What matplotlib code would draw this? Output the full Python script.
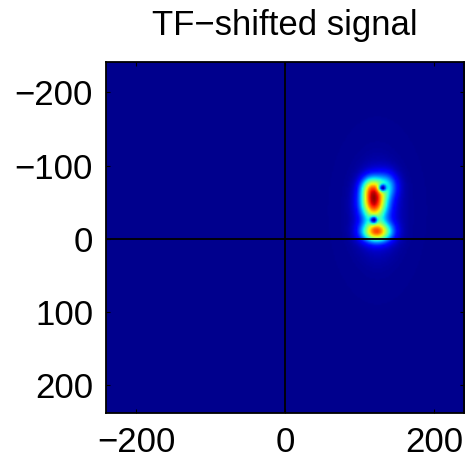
import numpy as np
import matplotlib.pyplot as plt

plt.rcParams['font.family'] = ['Liberation Sans', 'DejaVu Sans']

# time-frequency grid (samples)
t = np.arange(-240, 240, 2)
f = np.arange(-240, 240, 2)

# gaussian atoms of the shifted signal: centre, spread, weight
atom_t = [117, 113, 121, 122, 134]
atom_f = [-50, -70, -9, -38, -72]
atom_st = [11, 9, 13, 18, 10]
atom_sf = [16, 10, 9, 35, 12]
atom_amp = [1.0, 0.4, 0.9, 0.2, 0.3]

# interference zeros
zero_t = [129, 117]
zero_f = [-69, -25]
zero_s = [3.5, 3.5]

T, F = np.meshgrid(t, f)
S = np.zeros_like(T, dtype=float)
for ct, cf, st, sf, a in zip(atom_t, atom_f, atom_st, atom_sf, atom_amp):
    S += a * np.exp(-((T - ct) ** 2 / (2 * st ** 2) + (F - cf) ** 2 / (2 * sf ** 2)))
for zt, zf, zs in zip(zero_t, zero_f, zero_s):
    S *= 1 - np.exp(-((T - zt) ** 2 + (F - zf) ** 2) / (2 * zs ** 2))

vmax = S.max()
fig = plt.figure(figsize=(4.67, 4.65), dpi=100)
ax = fig.add_axes([0.226, 0.1108, 0.7666, 0.7548])
ax.imshow(S, cmap='jet', vmin=-0.016 * vmax, vmax=vmax * 1.02, aspect='auto',
          origin='upper', interpolation='bilinear',
          extent=[t[0] - 1, t[-1] + 1, f[-1] + 1, f[0] - 1])
ax.axhline(0, color='k', lw=1.3)
ax.axvline(0, color='k', lw=1.3)
ax.set_xlim(t[0] - 1, t[-1] + 1)
ax.set_ylim(f[-1] + 1, f[0] - 1)
ax.set_xticks([-200, 0, 200])
ax.set_yticks([-200, -100, 0, 100, 200])
ax.tick_params(direction='in', length=3, width=0.8, labelsize=25,
               top=True, right=True)
ax.tick_params(axis='x', pad=9)
ax.tick_params(axis='y', pad=9)
for s in ax.spines.values():
    s.set_linewidth(1.3)
ax.set_title('TF\u2212shifted signal', fontsize=25, pad=20)

fig.savefig('out.png', dpi=100)
